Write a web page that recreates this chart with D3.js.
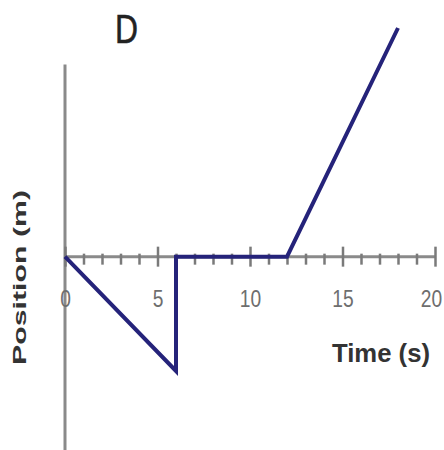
<!DOCTYPE html>
<html><head><meta charset="utf-8">
<script src="https://cdn.jsdelivr.net/npm/d3@7"></script>
<style>body{margin:0;background:#fff}svg{display:block}</style>
</head><body>
<script>
const title = "D";
const times = [0, 6, 6, 12, 18];
const positions = [0, -5, 0, 0, 10];
const xTickLabels = [0, 5, 10, 15, 20];
const minorTicks = d3.range(0, 21, 1);
const xLabel = "Time (s)";
const yLabel = "Position (m)";

const W = 444, H = 450;
const svg = d3.select("body").append("svg").attr("width", W).attr("height", H);

const x = d3.scaleLinear().domain([0, 20]).range([65, 435]);
const y = d3.scaleLinear().domain([-5, 10]).range([371, 28]);
const axisColor = "#8a8a8a";

// vertical axis
svg.append("line")
  .attr("x1", x(0)).attr("x2", x(0))
  .attr("y1", y(8.4)).attr("y2", y(-8.6))
  .attr("stroke", axisColor).attr("stroke-width", 3);

// horizontal axis
const y0 = y(0);
svg.append("line")
  .attr("x1", x(0)).attr("x2", x(20))
  .attr("y1", y0).attr("y2", y0)
  .attr("stroke", axisColor).attr("stroke-width", 3);

const axis = d3.axisBottom(x).tickValues(minorTicks).tickSize(0).tickFormat("");
const g = svg.append("g").attr("transform", `translate(0,${y0})`);
g.call(axis);
g.select(".domain").remove();
g.selectAll(".tick line").remove();
g.selectAll(".tick").append("line")
  .attr("y1", d => d % 5 === 0 ? -10 : -3)
  .attr("y2", d => d % 5 === 0 ? 10 : 8)
  .attr("stroke", "#7a7a7a").attr("stroke-width", 2.5);

g.selectAll(".tick").filter(d => xTickLabels.includes(d)).append("text")
  .attr("y", 50)
  .attr("x", d => d === 20 ? -5 : 0)
  .attr("text-anchor", "middle")
  .attr("fill", "#6e6e6e")
  .attr("font-family", "Liberation Sans, Arial, sans-serif")
  .attr("font-size", 24)
  .attr("transform", "scale(0.8,1)")
  .text(d => d);

// data line
const line = d3.line().x((d, i) => x(times[i])).y(d => y(d));
svg.append("path")
  .datum(positions)
  .attr("d", line)
  .attr("fill", "none")
  .attr("stroke", "#25237a")
  .attr("stroke-width", 4)
  .attr("stroke-linejoin", "miter");

// title
svg.append("text")
  .attr("x", 115).attr("y", 43)
  .attr("font-family", "Liberation Sans, Arial, sans-serif")
  .attr("font-size", 41)
  .attr("stroke", "#222").attr("stroke-width", 0.6)
  .attr("fill", "#222")
  .attr("textLength", 23).attr("lengthAdjust", "spacingAndGlyphs")
  .text(title);

// x label
svg.append("text")
  .attr("x", 332).attr("y", 362)
  .attr("font-family", "Liberation Sans, Arial, sans-serif")
  .attr("font-weight", "bold")
  .attr("font-size", 26)
  .attr("fill", "#333")
  .attr("textLength", 98).attr("lengthAdjust", "spacingAndGlyphs")
  .text(xLabel);

// y label
svg.append("text")
  .attr("transform", "translate(26,365) rotate(-90)")
  .attr("font-family", "Liberation Sans, Arial, sans-serif")
  .attr("font-weight", "bold")
  .attr("font-size", 19)
  .attr("fill", "#333")
  .attr("textLength", 175).attr("lengthAdjust", "spacingAndGlyphs")
  .text(yLabel);
</script>
</body></html>
